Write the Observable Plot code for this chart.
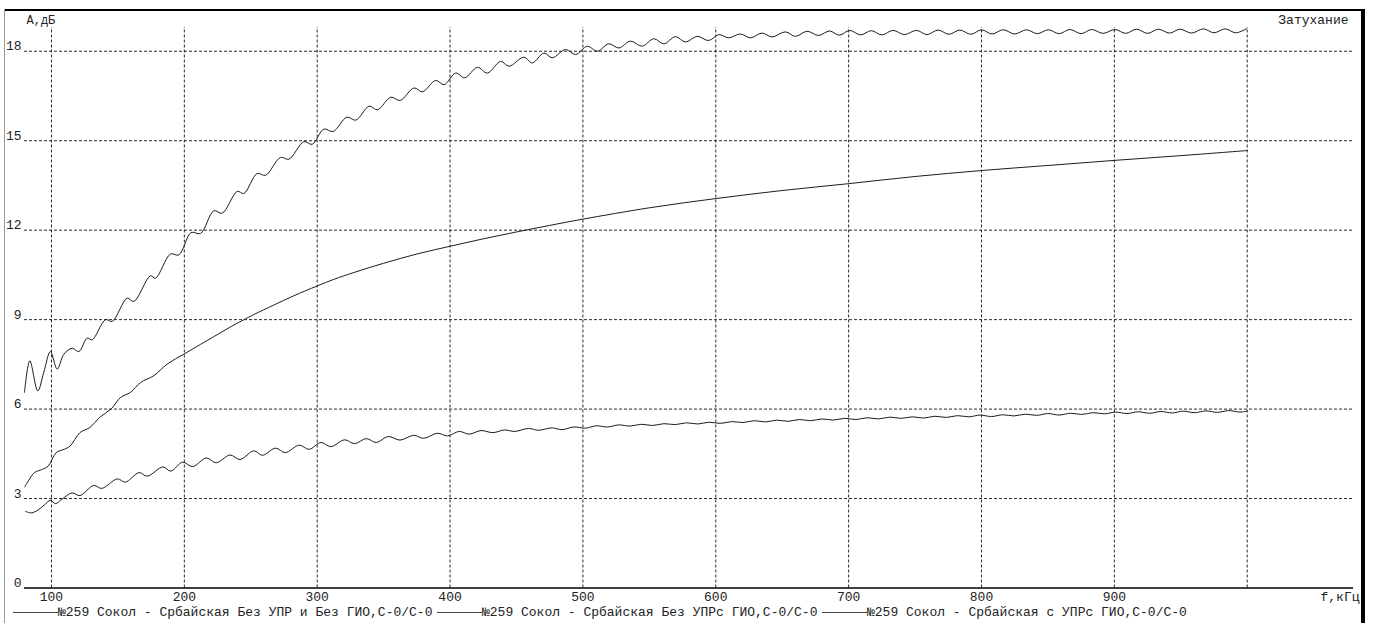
<!DOCTYPE html>
<html>
<head>
<meta charset="utf-8">
<script src="https://cdn.jsdelivr.net/npm/d3@7"></script>
<script src="https://cdn.jsdelivr.net/npm/@observablehq/plot@0.6"></script>
<style>
  html, body { margin: 0; padding: 0; background: #fff; overflow: hidden; }
  #wrap { position: relative; width: 1374px; height: 623px; overflow: hidden; font-family: "Liberation Mono", "DejaVu Sans Mono", monospace; }
  #chart svg { display: block; }
  #legend { position: absolute; left: 0; top: 605px; width: 1374px; height: 18px; font-size: 13px; color: #222; }
  .item { position: absolute; top: 0; height: 16px; line-height: 16px; white-space: pre; }
  .swatch { display: inline-block; width: 45px; height: 0; border-top: 1px solid #444; vertical-align: middle; margin-top: -1px; }
  #frame { position: absolute; left: 0; top: 0; z-index: 5; pointer-events: none; }
</style>
</head>
<body>
<div id="wrap">
  <div id="chart"></div>
  <div id="legend"></div>
  <svg id="frame" width="1374" height="623">
    <rect x="4" y="9" width="1360" height="2" fill="#000"></rect>
    <rect x="4" y="9" width="1" height="614" fill="#9a9a9a"></rect>
    <rect x="1361" y="9" width="4" height="614" fill="#000"></rect>
  </svg>
</div>
<script>
// Frequency grid (kHz) and attenuation grid (dB)
const xGrid = [100, 200, 300, 400, 500, 600, 700, 800, 900, 1000];
const xTickLabels = [100, 200, 300, 400, 500, 600, 700, 800, 900];
const yTicks = [0, 3, 6, 9, 12, 15, 18];
const gridTop = 18.8;

const seriesNames = [
  "№259 Сокол - Србайская Без УПР и Без ГИО,С-0/С-0",
  "№259 Сокол - Србайская Без УПРс ГИО,С-0/С-0",
  "№259 Сокол - Србайская с УПРс ГИО,С-0/С-0"
];

// [f, kHz ; A, dB]
const curveNoAmp = [
  [79.7, 6.56], [83.7, 7.62], [89.7, 6.61], [94.2, 7.23], [99.2, 7.93], [104.3, 7.34],
  [109.3, 7.84], [115.6, 8.04], [120.6, 7.93], [126.9, 8.38], [130.6, 8.32], [140.7, 9.0],
  [145.7, 8.94], [157, 9.72], [162, 9.61], [174.5, 10.47], [178.3, 10.39], [189.6, 11.2],
  [195.9, 11.17], [205.1, 11.92], [212.2, 11.89], [222.2, 12.65], [228.5, 12.57], [239.8, 13.3],
  [244.8, 13.23], [254.8, 13.9], [261.1, 13.84], [272.4, 14.44], [278.7, 14.38], [290, 14.97],
  [296.2, 14.88], [305, 15.39], [312, 15.31], [322.3, 15.79], [329.1, 15.69], [339.1, 16.16],
  [345.4, 16.04], [355.4, 16.46], [362.4, 16.35], [372.9, 16.77], [379.2, 16.64], [389.2, 17.02],
  [395.5, 16.88], [404.3, 17.27], [411, 17.11], [420.6, 17.46], [428.1, 17.27], [438.1, 17.66],
  [444.4, 17.5], [455.6, 17.8], [461.9, 17.61], [470.7, 17.94], [476.9, 17.78], [487, 18.06],
  [494.5, 17.89], [503.3, 18.17], [510.8, 18.0], [519.5, 18.25], [527.1, 18.11], [535.8, 18.34],
  [544.6, 18.17], [553.4, 18.42], [560.9, 18.25], [569.7, 18.49], [577.2, 18.31], [586, 18.5],
  [594.7, 18.36], [602.3, 18.56], [609.8, 18.45], [618.5, 18.58], [626.1, 18.45], [634.8, 18.61],
  [642.4, 18.48], [652.4, 18.65], [659.9, 18.5], [668.7, 18.67], [677.4, 18.53], [685.7, 18.68],
  [693, 18.54], [700.8, 18.7], [709, 18.55], [717, 18.69], [725, 18.55], [733.4, 18.7],
  [742, 18.56], [751, 18.7], [759, 18.56], [767.3, 18.71], [775.5, 18.57], [783.7, 18.71],
  [792, 18.57], [800, 18.72], [808, 18.58], [816.3, 18.72], [825, 18.58], [833.9, 18.72],
  [842, 18.59], [850.3, 18.72], [858.5, 18.59], [866.6, 18.73], [875, 18.59], [882.9, 18.73],
  [891.5, 18.6], [900.5, 18.73], [908.5, 18.6], [916.8, 18.74], [925, 18.6], [933.2, 18.74],
  [941.5, 18.61], [949.5, 18.74], [958, 18.61], [967.1, 18.75], [975, 18.62], [983.4, 18.75],
  [991.5, 18.62], [999.7, 18.76]
];

const curveAmp = [
  [79.8, 3.39], [83, 3.62], [87.2, 3.87], [93.2, 3.98], [97.6, 4.09], [103.6, 4.54],
  [109.5, 4.65], [114, 4.76], [121.4, 5.21], [128.8, 5.38], [136.3, 5.72], [145.2, 6.02],
  [152, 6.39], [159.5, 6.56], [167, 6.89], [177, 7.12], [187.1, 7.51], [199.6, 7.84],
  [212.2, 8.17], [222.2, 8.43], [237.3, 8.82], [245, 9.0], [252.3, 9.17], [267.4, 9.49],
  [282.4, 9.8], [300, 10.13], [312.5, 10.35], [327.6, 10.58], [350, 10.89], [375, 11.2],
  [400, 11.46], [425, 11.71], [450, 11.94], [475, 12.16], [500, 12.37], [550, 12.75],
  [600, 13.06], [650, 13.33], [700, 13.56], [750, 13.8], [800, 14.0], [850, 14.17],
  [900, 14.34], [950, 14.5], [1000, 14.67]
];

const curveAmpGio = [
  [80.4, 2.57], [85.1, 2.52], [90, 2.62], [95, 2.8], [99.1, 2.94], [103, 2.83],
  [108, 2.98], [115.5, 3.19], [121.4, 3.1], [131.8, 3.44], [137.8, 3.34], [149.7, 3.66],
  [155.6, 3.55], [166, 3.87], [172, 3.75], [183.9, 4.06], [189.8, 3.92], [198.7, 4.22],
  [206.2, 4.07], [216.6, 4.36], [224, 4.2], [234.4, 4.46], [241.9, 4.31], [252.3, 4.6],
  [258.8, 4.45], [268.6, 4.69], [276, 4.54], [286.5, 4.79], [293.9, 4.65], [302.8, 4.88],
  [310.3, 4.74], [320.7, 4.97], [328.1, 4.84], [337, 5.01], [344.5, 4.88], [353.4, 5.08],
  [362.3, 4.96], [372.7, 5.12], [380.1, 5.02], [390.6, 5.19], [398, 5.1], [406.9, 5.25],
  [414.4, 5.16], [423.3, 5.28], [432.2, 5.21], [441.1, 5.3], [448.6, 5.25], [459, 5.35],
  [466.4, 5.29], [476.8, 5.37], [484.2, 5.31], [493.2, 5.4], [502, 5.36], [510, 5.44],
  [518.5, 5.4], [527, 5.47], [535.5, 5.43], [544, 5.49], [552.5, 5.45], [561, 5.51],
  [569.5, 5.48], [578, 5.54], [586.5, 5.5], [595, 5.56], [603.5, 5.52], [612, 5.58],
  [620.5, 5.55], [629, 5.61], [637.5, 5.57], [646, 5.63], [654.5, 5.59], [663, 5.65],
  [671.5, 5.61], [680, 5.67], [688.5, 5.63], [697, 5.69], [705.5, 5.65], [714, 5.71],
  [722.5, 5.67], [731, 5.73], [739.5, 5.69], [748, 5.74], [756.5, 5.7], [765, 5.76],
  [773.5, 5.72], [782, 5.78], [790.5, 5.74], [799, 5.8], [807.5, 5.75], [816, 5.81],
  [824.5, 5.77], [833, 5.83], [841.5, 5.79], [850, 5.85], [858.5, 5.8], [867, 5.86],
  [875.5, 5.82], [884, 5.88], [892.5, 5.84], [901, 5.9], [909.5, 5.85], [918, 5.91],
  [926.5, 5.86], [935, 5.92], [943.5, 5.87], [952, 5.93], [960.5, 5.88], [969, 5.94],
  [977.5, 5.89], [986, 5.95], [994.5, 5.9], [1000, 5.93]
];

const rows = [curveNoAmp, curveAmp, curveAmpGio].flatMap((c, i) =>
  c.map(([f, a]) => ({f, a, s: seriesNames[i]}))
);

const font = "Liberation Mono, DejaVu Sans Mono, monospace";

const chart = Plot.plot({
  width: 1374,
  height: 604,
  marginLeft: 24,
  marginRight: 21,
  marginTop: 12,
  marginBottom: 16.5,
  x: {domain: [79.7, 1080], axis: null},
  y: {domain: [0, 19.3], axis: null},
  style: {fontFamily: font, fontSize: "13px", color: "#222", background: "transparent", overflow: "visible"},
  marks: [
    Plot.ruleY(yTicks.filter(d => d > 0), {stroke: "#2a2a2a", strokeWidth: 1, strokeDasharray: "3,2"}),
    Plot.ruleX(xGrid, {y1: 0, y2: gridTop, stroke: "#2a2a2a", strokeWidth: 1, strokeDasharray: "3,2"}),
    Plot.ruleY([0], {stroke: "#000", strokeWidth: 1.5}),
    Plot.line(rows, {x: "f", y: "a", z: "s", curve: "catmull-rom", stroke: "#1c1c1c", strokeWidth: 1}),
    Plot.axisX(xTickLabels, {anchor: "bottom", label: null, tickSize: 0, tickPadding: 4, fontSize: 13, fill: "#222"}),
    Plot.axisY(yTicks, {anchor: "left", label: null, tickSize: 0, tickPadding: 3, textAnchor: "end", dy: -5, fontSize: 13, fill: "#222"}),
    Plot.text(["А,дБ"], {frameAnchor: "top-left", textAnchor: "start", lineAnchor: "middle", dx: 2, dy: 8, fontSize: 12, fill: "#222"}),
    Plot.text(["Затухание"], {frameAnchor: "top-right", textAnchor: "end", lineAnchor: "middle", dx: -5, dy: 7, fontSize: 13, fill: "#222"}),
    Plot.text(["f,кГц"], {frameAnchor: "bottom-right", textAnchor: "start", lineAnchor: "top", dx: -33, dy: 4, fontSize: 13, fill: "#222"})
  ]
});
document.getElementById("chart").appendChild(chart);

// Legend row under the plot
const legendX = [13, 437, 822];
const legend = document.getElementById("legend");
seriesNames.forEach((name, i) => {
  const item = document.createElement("div");
  item.className = "item";
  item.style.left = legendX[i] + "px";
  const sw = document.createElement("span");
  sw.className = "swatch";
  item.appendChild(sw);
  item.appendChild(document.createTextNode(name));
  legend.appendChild(item);
});
</script>
</body>
</html>
